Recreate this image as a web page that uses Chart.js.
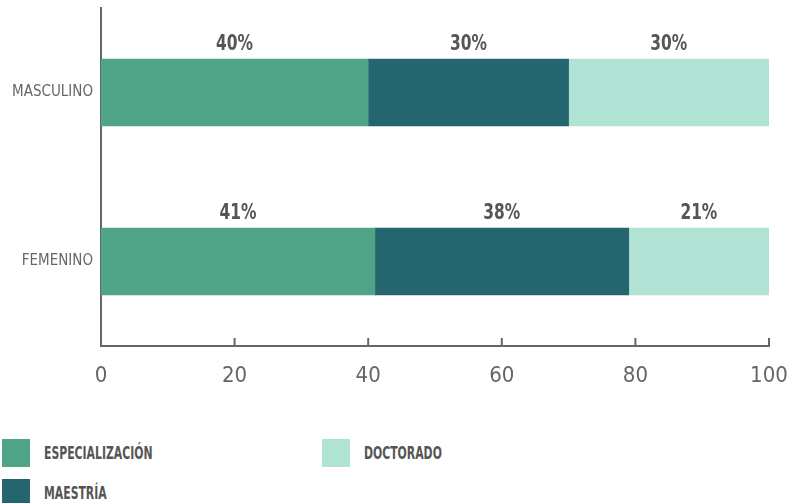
<!DOCTYPE html>
<html>
<head>
<meta charset="utf-8">
<script src="https://cdn.jsdelivr.net/npm/chart.js@4"></script>
<style>
    body { margin: 0; background: #fff; }
    #wrap { position: relative; width: 787px; height: 420px; }
    #legend { position: absolute; left: 2px; top: 439px; width: 780px;
        display: grid; grid-template-columns: 320px 320px; grid-auto-flow: column;
        grid-template-rows: 40px 40px; }
    .item { display: flex; align-items: flex-start; font-family: "DejaVu Sans Condensed", sans-serif;
        font-stretch: condensed; font-weight: bold; font-size: 17px; color: #555; }
    .box { width: 28px; height: 28px; margin-right: 14px; flex: none; }
    .item span { line-height: 28px; display: inline-block; transform: scaleX(0.71); transform-origin: left center; white-space: nowrap; }
</style>
</head>
<body>
<div id="wrap"><canvas id="chart" width="787" height="420"></canvas></div>
<div id="legend"></div>
<script>
const categories = ['MASCULINO', 'FEMENINO'];
const seriesNames = ['ESPECIALIZACIÓN', 'MAESTRÍA', 'DOCTORADO'];
const especializacion = [40, 41];
const maestria = [30, 38];
const doctorado = [30, 21];
const seriesColors = ['#4fa387', '#256570', '#b0e3d3'];
const xTicks = [0, 20, 40, 60, 80, 100];

const narrow = '"DejaVu Sans Condensed", sans-serif';

// small marks pointing up into the plot from the x axis
const upTicks = {
    id: 'upTicks',
    afterDraw(chart) {
        const ctx = chart.ctx;
        const x = chart.scales.x;
        const bottom = chart.chartArea.bottom;
        ctx.save();
        ctx.strokeStyle = '#666';
        ctx.lineWidth = 2;
        x.ticks.forEach(t => {
            const px = x.getPixelForValue(t.value);
            ctx.beginPath();
            ctx.moveTo(px, bottom);
            ctx.lineTo(px, bottom - 8);
            ctx.stroke();
        });
        ctx.restore();
    }
};

// percent labels above each segment
const barLabels = {
    id: 'barLabels',
    afterDatasetsDraw(chart) {
        const ctx = chart.ctx;
        ctx.save();
        ctx.font = 'bold 22px ' + narrow;
        ctx.fillStyle = '#555';
        ctx.textAlign = 'center';
        ctx.textBaseline = 'middle';
        chart.data.datasets.forEach((ds, i) => {
            chart.getDatasetMeta(i).data.forEach((el, j) => {
                const cx = (el.x + el.base) / 2;
                const cy = el.y - el.height / 2 - 15;
                ctx.save();
                ctx.translate(cx, cy);
                ctx.scale(0.78, 1);
                ctx.fillText(ds.data[j] + '%', 0, 0);
                ctx.restore();
            });
        });
        ctx.restore();
    }
};

const ctx = document.getElementById('chart').getContext('2d');
const chart = new Chart(ctx, {
    type: 'bar',
    data: {
        labels: categories,
        datasets: [
            { label: seriesNames[0], data: especializacion, backgroundColor: seriesColors[0] },
            { label: seriesNames[1], data: maestria, backgroundColor: seriesColors[1] },
            { label: seriesNames[2], data: doctorado, backgroundColor: seriesColors[2] }
        ]
    },
    options: {
        indexAxis: 'y',
        responsive: false,
        animation: false,
        barThickness: 67,
        layout: { padding: { top: 8, right: 18, left: 0, bottom: 0 } },
        plugins: {
            legend: { display: false },
            tooltip: { enabled: false }
        },
        scales: {
            x: {
                stacked: true,
                min: 0,
                max: 100,
                afterBuildTicks: s => { s.ticks = xTicks.map(v => ({ value: v })); },
                grid: { display: false, drawTicks: false },
                border: { display: true, color: '#666', width: 2 },
                ticks: { color: '#666', padding: 17, font: { family: narrow, size: 22 } },
                afterFit: s => { s.height = 74; s.paddingLeft = 0; s.paddingRight = 0; }
            },
            y: {
                stacked: true,
                grid: { display: false, drawTicks: false },
                border: { display: true, color: '#666', width: 2 },
                ticks: { color: '#666', padding: 8, font: { family: narrow, size: 15 } },
                afterFit: s => { s.width = 101; s.paddingTop = 0; s.paddingBottom = 0; }
            }
        }
    },
    plugins: [upTicks, barLabels]
});

// legend in two columns below the chart
const legend = document.getElementById('legend');
seriesNames.forEach((name, i) => {
    const item = document.createElement('div');
    item.className = 'item';
    item.innerHTML = '<div class="box" style="background:' + seriesColors[i] + '"></div><span>' + name + '</span>';
    legend.appendChild(item);
});
</script>
</body>
</html>
